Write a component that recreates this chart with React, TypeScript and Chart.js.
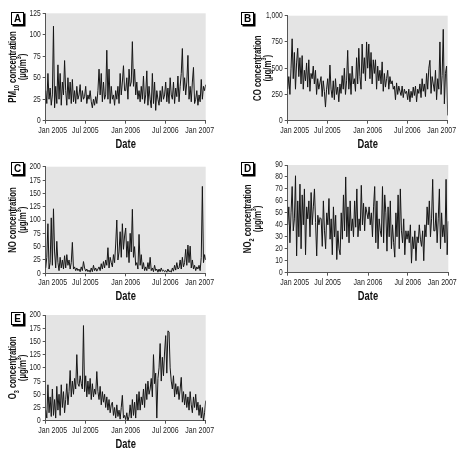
import React, { useEffect, useRef } from "react";
import { Chart, registerables } from "chart.js";
Chart.register(...registerables);

// ---- data (values sampled ~6 per month, Jan 2005 -> Jan 2007) ----
const TOTAL_DAYS = 730;
const xTickDays = [0, 181, 365, 546, 730];
const xTickLabels = ["Jan 2005", "Jul 2005", "Jan 2006", "Jul 2006", "Jan 2007"];

const pm10 = [
  35, 20, 55, 25, 38, 18, 30, 110, 15, 40, 20, 65, 25, 55, 18, 45, 30, 70,
  35, 18, 50, 25, 45, 20, 48, 22, 35, 20, 40, 25, 30, 42, 22, 35, 25, 28,
  40, 20, 30, 25, 35, 22, 15, 25, 18, 28, 20, 35, 60, 30, 55, 22, 45, 25,
  30, 82, 25, 60, 20, 40, 25, 30, 18, 35, 25, 40, 20, 55, 30, 45, 64, 35,
  35, 50, 25, 60, 40, 45, 92, 40, 60, 30, 45, 25, 35, 22, 40, 25, 52, 20,
  30, 58, 18, 40, 25, 15, 55, 20, 45, 12, 35, 25, 18, 35, 22, 40, 25, 30,
  45, 22, 38, 20, 50, 30, 25, 45, 20, 38, 28, 52, 22, 40, 55, 84, 35, 50,
  30, 45, 76, 25, 40, 22, 45, 62, 20, 25, 35, 18, 30, 22, 48, 25, 40, 35,
  42,
];

const co = [
  300, 420, 250, 500, 780, 400, 650, 300, 550, 690, 420, 600,
  350, 620, 300, 480, 380, 550, 320, 580, 280, 450, 400, 520,
  350, 480, 250, 400, 300, 360, 420, 230, 380, 280, 130, 300,
  400, 250, 530, 300, 220, 380, 200, 400, 250, 320, 180, 350,
  260, 430, 300, 500, 250, 380, 670, 300, 450, 250, 520, 350,
  400, 280, 600, 350, 690, 420, 300, 730, 450, 600, 380, 750,
  500, 730, 400, 650, 350, 580, 450, 580, 300, 520, 380, 480,
  350, 560, 280, 450, 320, 400, 480, 300, 420, 350, 380, 300,
  330, 200, 360, 250, 330, 280, 240, 330, 220, 300, 260, 280,
  200, 300, 180, 280, 220, 320, 240, 330, 180, 300, 260, 350,
  220, 400, 280, 350, 230, 450, 300, 500, 575, 260, 420, 350,
  280, 480, 200, 400, 300, 750, 250, 430, 870, 160, 450, 520,
  50,
];

const no = [
  10, 30, 93, 8, 20, 104, 15, 121, 40, 10, 60, 20, 5, 30, 10, 25, 8, 33,
  10, 35, 15, 25, 8, 20, 58, 8, 12, 5, 10, 5, 8, 3, 12, 5, 22, 10,
  4, 8, 3, 6, 2, 10, 3, 15, 5, 10, 4, 8, 12, 5, 18, 8, 22, 10,
  25, 15, 48, 10, 30, 20, 12, 35, 20, 55, 100, 25, 40, 78, 30, 93, 45, 70,
  85, 30, 60, 20, 75, 40, 120, 30, 50, 15, 20, 8, 73, 15, 35, 8, 20, 5,
  12, 5, 20, 8, 30, 5, 10, 3, 15, 5, 8, 2, 8, 3, 10, 4, 6, 3,
  5, 2, 8, 3, 5, 2, 10, 4, 15, 6, 20, 8, 10, 25, 8, 30, 12, 20,
  45, 15, 53, 20, 51, 10, 25, 8, 15, 5, 12, 8, 15, 5, 30, 163, 20, 35,
  25,
];

const no2 = [
  40, 55, 25, 50, 72, 35, 45, 81, 14, 60, 30, 74, 20, 65, 40, 70, 15, 55,
  45, 60, 30, 67, 40, 55, 70, 42, 14, 48, 40, 46, 45, 22, 60, 35, 20, 50,
  40, 62, 28, 45, 15, 55, 30, 48, 11, 35, 20, 15, 50, 28, 65, 35, 80, 30,
  55, 25, 60, 35, 45, 30, 60, 38, 70, 30, 45, 35, 73, 40, 58, 35, 55, 50,
  45, 55, 40, 50, 30, 55, 72, 25, 60, 20, 45, 35, 30, 72, 25, 65, 50, 18,
  55, 30, 60, 20, 40, 25, 13, 50, 30, 65, 20, 70, 35, 25, 45, 15, 35, 28,
  35, 25, 40, 8, 30, 20, 35, 10, 30, 25, 40, 28, 22, 35, 10, 40, 30, 55,
  40, 60, 30, 45, 78, 35, 35, 50, 25, 45, 70, 20, 50, 30, 40, 25, 78, 15,
  43,
];

const o3 = [
  20, 5, 68, 15, 45, 8, 60, 10, 40, 5, 65, 20, 50, 10, 68, 25, 55, 15,
  40, 70, 30, 55, 95, 45, 75, 50, 80, 60, 125, 70, 65, 85, 70, 60, 180, 55,
  85, 45, 75, 50, 80, 40, 70, 45, 60, 50, 93, 55, 40, 65, 30, 55, 35, 50,
  25, 45, 20, 40, 15, 30, 35, 10, 25, 5, 30, 8, 20, 3, 25, 48, 5, 10,
  2, 15, 0, 8, 30, 5, 40, 10, 35, 5, 50, 20, 55, 20, 45, 30, 60, 25,
  70, 40, 75, 50, 60, 80, 45, 125, 70, 90, 5, 80, 100, 146, 75, 120, 85, 130,
  161, 90, 170, 168, 100, 75, 60, 85, 45, 70, 50, 65, 40, 60, 82, 35, 55, 30,
  50, 25, 45, 20, 55, 30, 15, 45, 25, 50, 20, 35, 10, 30, 5, 25, 0, 15,
  38,
];

type Seg = { t: string; sub?: boolean; sup?: boolean };
const FONT = '"Liberation Sans", Arial, sans-serif';
const TITLE_SQUEEZE = 0.68;

const unitSegs: Seg[] = [{ t: "(\u00b5g/m" }, { t: "3", sup: true }, { t: ")" }];

const panels = [
  {
    letter: "A", values: pm10, yMax: 125, yStep: 25,
    title: [{ t: "PM" }, { t: "10", sub: true }, { t: " concentration" }] as Seg[],
    left: 0, top: 0, w: 230, h: 150, area: { l: 45.7, r: 205.7, t: 13.3, b: 120.7 }, tx: [13, 22.5],
  },
  {
    letter: "B", values: co, yMax: 1000, yStep: 250,
    title: [{ t: "CO concentration" }] as Seg[],
    left: 230, top: 0, w: 231, h: 150, area: { l: 57.7, r: 217.7, t: 15.7, b: 120.7 }, tx: [28, 37.5],
  },
  {
    letter: "C", values: no, yMax: 200, yStep: 25,
    title: [{ t: "NO concentration" }] as Seg[],
    left: 0, top: 150, w: 230, h: 150, area: { l: 45.7, r: 205.7, t: 16.7, b: 123.3 }, tx: [13, 22.5],
  },
  {
    letter: "D", values: no2, yMax: 90, yStep: 10,
    title: [{ t: "NO" }, { t: "2", sub: true }, { t: " concentration" }] as Seg[],
    left: 230, top: 150, w: 231, h: 150, area: { l: 57.7, r: 218.3, t: 15, b: 122.7 }, tx: [18, 27.5],
  },
  {
    letter: "E", values: o3, yMax: 200, yStep: 25,
    title: [{ t: "O" }, { t: "3", sub: true }, { t: " concentration" }] as Seg[],
    left: 0, top: 300, w: 230, h: 153, area: { l: 45.7, r: 205.7, t: 15, b: 120.7 }, tx: [13, 22.5],
  },
];

function fillSqueezed(ctx: CanvasRenderingContext2D, text: string, x: number, y: number, align: CanvasTextAlign, sx: number) {
  ctx.save();
  ctx.translate(x, y);
  ctx.scale(sx, 1);
  ctx.textAlign = align;
  ctx.fillText(text, 0, 0);
  ctx.restore();
}

function drawRich(ctx: CanvasRenderingContext2D, segs: Seg[], size: number) {
  const big = `bold ${size}px ${FONT}`;
  const small = `bold ${Math.round(size * 0.72)}px ${FONT}`;
  let total = 0;
  const widths = segs.map((s) => {
    ctx.font = s.sub || s.sup ? small : big;
    const w = ctx.measureText(s.t).width;
    total += w;
    return w;
  });
  ctx.save();
  ctx.scale(TITLE_SQUEEZE, 1);
  ctx.textAlign = "left";
  let x = -total / 2;
  segs.forEach((s, i) => {
    ctx.font = s.sub || s.sup ? small : big;
    const dy = s.sub ? size * 0.3 : s.sup ? -size * 0.35 : 0;
    ctx.fillText(s.t, x, dy);
    x += widths[i];
  });
  ctx.restore();
}

function Panel({ cfg }: { cfg: (typeof panels)[number] }) {
  const ref = useRef<HTMLCanvasElement | null>(null);
  useEffect(() => {
    const n = cfg.values.length;
    const points = cfg.values.map((v, i) => ({ x: (i * TOTAL_DAYS) / (n - 1), y: v }));
    const a = cfg.area;
    const decor = {
      id: "decor",
      beforeDraw(chart: any) {
        const { ctx, chartArea } = chart;
        ctx.save();
        ctx.fillStyle = "#e4e4e4";
        ctx.fillRect(chartArea.left, chartArea.top, chartArea.right - chartArea.left, chartArea.bottom - chartArea.top);
        ctx.restore();
      },
      afterDraw(chart: any) {
        const { ctx, chartArea } = chart;
        const xs = chart.scales.x;
        const ys = chart.scales.y;
        ctx.save();
        ctx.fillStyle = "#222";
        ctx.textBaseline = "middle";
        ctx.font = `9px ${FONT}`;
        // x tick labels
        xTickDays.forEach((d, i) => {
          let px = xs.getPixelForValue(d);
          if (i === 0) px += 7;
          if (i === xTickDays.length - 1) px -= 6;
          fillSqueezed(ctx, xTickLabels[i], px, chartArea.bottom + 9.5, "center", 0.78);
        });
        // y tick labels
        for (let v = 0; v <= cfg.yMax; v += cfg.yStep) {
          const py = ys.getPixelForValue(v);
          fillSqueezed(ctx, v.toLocaleString("en-US"), chartArea.left - 5, py, "right", 0.74);
        }
        // x title
        ctx.font = `bold 12px ${FONT}`;
        ctx.fillStyle = "#111";
        fillSqueezed(ctx, "Date", (chartArea.left + chartArea.right) / 2, chartArea.bottom + 23.5, "center", 0.78);
        // y title (two lines)
        const cy = (chartArea.top + chartArea.bottom) / 2;
        [cfg.title, unitSegs].forEach((segs, li) => {
          ctx.save();
          ctx.translate(cfg.tx[li], cy);
          ctx.rotate(-Math.PI / 2);
          drawRich(ctx, segs, 11.5);
          ctx.restore();
        });
        ctx.restore();
      },
    };
    const gridOpts = { display: true, drawOnChartArea: false, drawTicks: true, tickLength: 3, color: "#555" };
    const chart = new Chart(ref.current as HTMLCanvasElement, {
      type: "line",
      data: {
        datasets: [
          {
            data: points,
            borderColor: "#161616",
            borderWidth: 1,
            pointRadius: 0,
            tension: 0,
            fill: false,
          },
        ],
      },
      options: {
        responsive: false,
        animation: false,
        devicePixelRatio: 1,
        layout: { autoPadding: false, padding: { left: 0, top: a.t, right: cfg.w - a.r, bottom: 0 } },
        plugins: { legend: { display: false }, tooltip: { enabled: false } },
        scales: {
          x: {
            type: "linear",
            min: 0,
            max: TOTAL_DAYS,
            afterBuildTicks: (s: any) => {
              s.ticks = xTickDays.map((v) => ({ value: v }));
            },
            afterFit: (s: any) => {
              s.height = cfg.h - a.b;
            },
            ticks: { display: false },
            grid: gridOpts,
            border: { display: true, color: "#555" },
          },
          y: {
            min: 0,
            max: cfg.yMax,
            afterBuildTicks: (s: any) => {
              const t = [];
              for (let v = 0; v <= cfg.yMax; v += cfg.yStep) t.push({ value: v });
              s.ticks = t;
            },
            afterFit: (s: any) => {
              s.width = a.l;
            },
            ticks: { display: false },
            grid: gridOpts,
            border: { display: true, color: "#555" },
          },
        },
      } as any,
      plugins: [decor],
    });
    return () => chart.destroy();
  }, []);
  return (
    <div style={{ position: "absolute", left: cfg.left, top: cfg.top, width: cfg.w, height: cfg.h }}>
      <canvas ref={ref} width={cfg.w} height={cfg.h} style={{ width: cfg.w, height: cfg.h, display: "block" }} />
      <div
        style={{
          position: "absolute",
          left: 11,
          top: 12,
          width: 11,
          height: 11,
          border: "1px solid #000",
          boxShadow: "1.5px 1.5px 0 #000",
          background: "#fff",
          fontFamily: FONT,
          fontWeight: "bold",
          fontSize: 10,
          lineHeight: "11px",
          textAlign: "center",
          color: "#000",
        }}
      >
        {cfg.letter}
      </div>
    </div>
  );
}

export default function App() {
  return (
    <div style={{ position: "absolute", left: 0, top: 0, width: 461, height: 453, background: "#fff" }}>
      {panels.map((p) => (
        <Panel key={p.letter} cfg={p} />
      ))}
    </div>
  );
}
